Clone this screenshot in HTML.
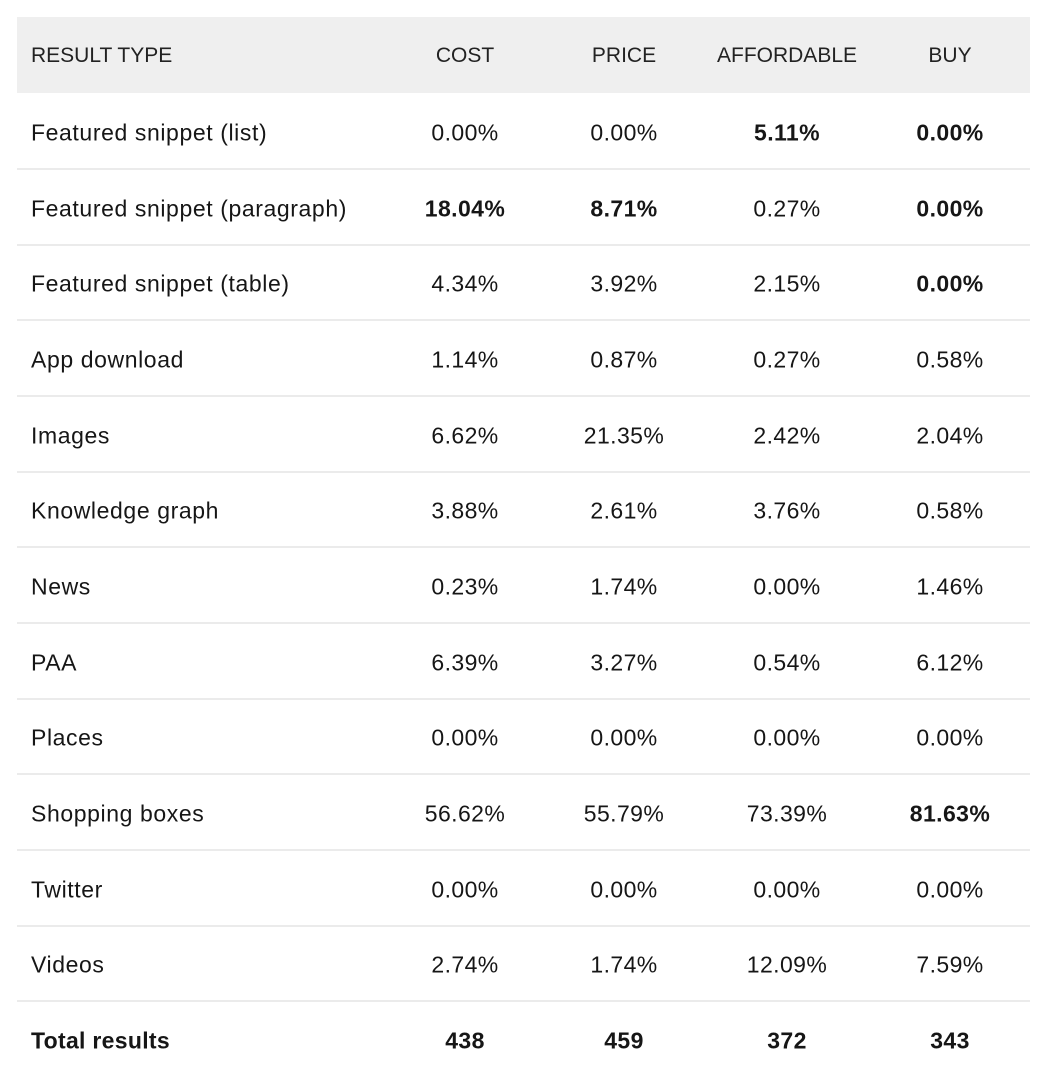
<!DOCTYPE html>
<html><head><meta charset="utf-8"><style>
body{margin:0;width:1042px;height:1086px;background:#fff;position:relative;overflow:hidden;font-family:"Liberation Sans",sans-serif;color:#161616}
.hdr{position:absolute;left:17px;top:17px;width:1013px;height:76px;background:#efefef}
.h{position:absolute;top:56px;font-size:21px;font-family:"Liberation Sans Narrow","Liberation Sans",sans-serif;letter-spacing:0px;color:#222;white-space:nowrap}
.c{position:absolute;transform:translate(-50%,-50%);font-size:23px;letter-spacing:0.4px;white-space:nowrap}
.l{position:absolute;left:31px;transform:translateY(-50%);font-size:23px;letter-spacing:0.6px;white-space:nowrap}
.line{position:absolute;left:17px;width:1013px;height:2px;background:#ebebeb}
</style></head><body>
<div class="hdr"></div>
<div class="h" style="left:31px;transform:translateY(-50%)">RESULT TYPE</div>
<div class="h" style="left:465px;transform:translate(-50%,-50%)">COST</div>
<div class="h" style="left:624px;transform:translate(-50%,-50%)">PRICE</div>
<div class="h" style="left:787px;transform:translate(-50%,-50%)">AFFORDABLE</div>
<div class="h" style="left:950px;transform:translate(-50%,-50%)">BUY</div>
<div id="rows"></div>
<script>
const labels=["Featured snippet (list)","Featured snippet (paragraph)","Featured snippet (table)","App download","Images","Knowledge graph","News","PAA","Places","Shopping boxes","Twitter","Videos","Total results"];
const cost=["0.00%","18.04%","4.34%","1.14%","6.62%","3.88%","0.23%","6.39%","0.00%","56.62%","0.00%","2.74%","438"];
const price=["0.00%","8.71%","3.92%","0.87%","21.35%","2.61%","1.74%","3.27%","0.00%","55.79%","0.00%","1.74%","459"];
const affordable=["5.11%","0.27%","2.15%","0.27%","2.42%","3.76%","0.00%","0.54%","0.00%","73.39%","0.00%","12.09%","372"];
const buy=["0.00%","0.00%","0.00%","0.58%","2.04%","0.58%","1.46%","6.12%","0.00%","81.63%","0.00%","7.59%","343"];
const bold=[[0,3],[0,4],[1,1],[1,2],[1,4],[2,4],[9,4]];
const cols=[cost,price,affordable,buy];
const xs=[465,624,787,950];
const colNames=['cost','price','affordable','buy'];
const root=document.getElementById('rows');
const rh=75.65;
labels.forEach((lab,i)=>{
  const y=133+i*rh;
  const last=i===labels.length-1;
  const l=document.createElement('div');
  l.className='l';l.style.top=y+'px';
  if(last){l.style.fontWeight='bold';l.style.letterSpacing='0.3px';}
  l.textContent=lab;
  
  
  root.appendChild(l);
  cols.forEach((col,j)=>{
    const c=document.createElement('div');
    c.className='c';c.style.left=xs[j]+'px';c.style.top=y+'px';
    if(last||bold.some(b=>b[0]===i&&b[1]===j+1))c.style.fontWeight='bold';
    c.textContent=col[i];
    
    
    root.appendChild(c);
  });
  if(!last){
    const ln=document.createElement('div');
    ln.className='line';ln.style.top=(y+35)+'px';
    
    
    root.appendChild(ln);
  }
});
</script>
</body></html>
